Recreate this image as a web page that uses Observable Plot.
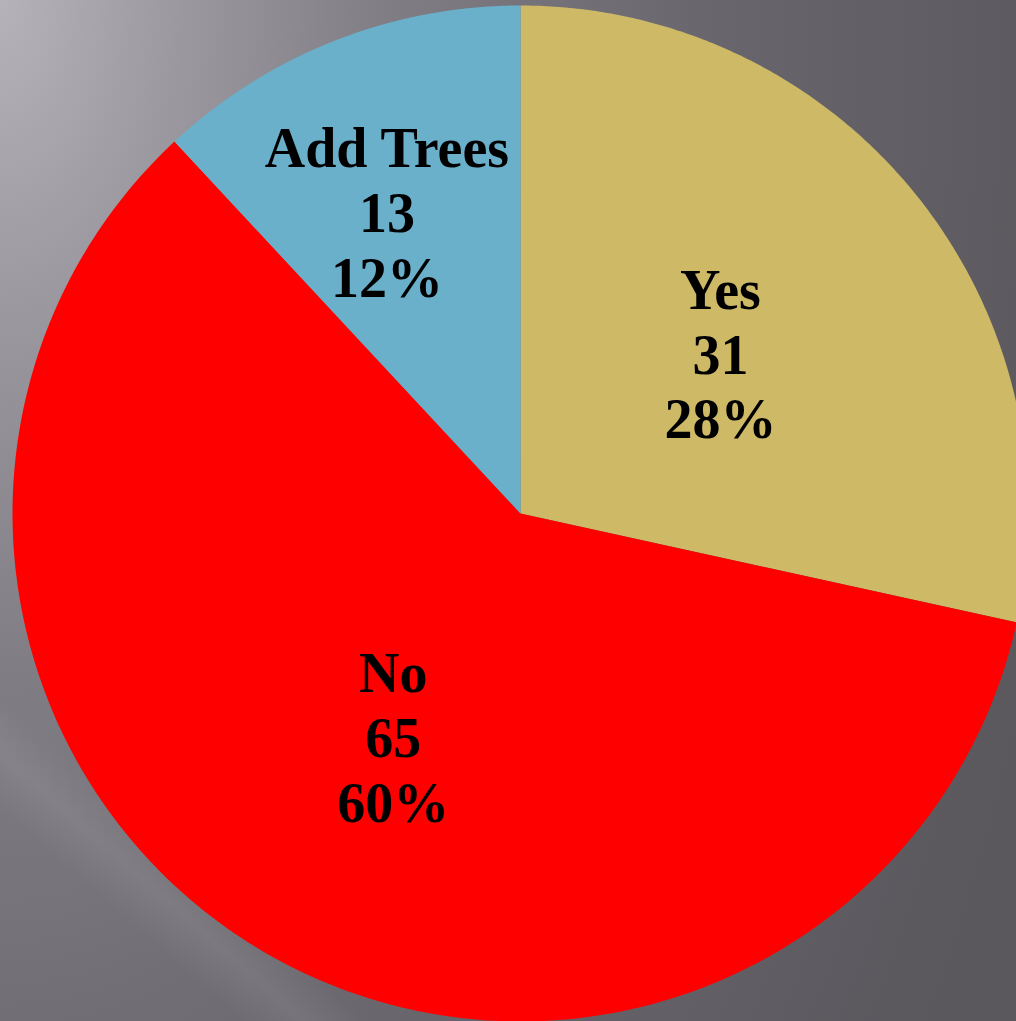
<!DOCTYPE html>
<html>
<head>
<meta charset="utf-8">
<script src="https://cdn.jsdelivr.net/npm/d3@7"></script>
<script src="https://cdn.jsdelivr.net/npm/@observablehq/plot@0.6"></script>
<style>
  html, body { margin: 0; padding: 0; overflow: hidden; }
  body {
    width: 1016px; height: 1021px;
    background:
      linear-gradient(41.5deg, rgba(255,255,255,0) 11%, rgba(255,255,255,0.07) 14%, rgba(255,255,255,0) 17%),
      radial-gradient(ellipse 1100px 1900px at 0 0, #b5b3b9 0%, #9a989e 17%, #807e84 35%, #68666c 65%, #5a585d 100%);
  }
  #chart svg { display: block; background: transparent; overflow: hidden; }
</style>
</head>
<body>
<div id="chart"></div>
<script>
// Data
const categories = ["Yes", "No", "Add Trees"];
const counts = [31, 65, 13];
const percentLabels = ["28%", "60%", "12%"];
const colors = ["#CEB967", "#FF0000", "#6AB0CA"];

// Layout (not data): radial label position and small angular nudge (degrees)
const labelRadius = {"Yes": 0.505, "No": 0.505, "Add Trees": 0.65};
const labelNudge = {"Yes": 0, "No": 0, "Add Trees": -2.4};

const table = categories.map((name, i) => ({name, value: counts[i], pct: percentLabels[i]}));
const arcs = d3.pie().sort(null).value(d => d.value)(table);

// Slice polygons in unit-circle coordinates (angle 0 = top, clockwise)
const pts = [];
for (const a of arcs) {
  pts.push({name: a.data.name, x: 0, y: 0});
  const n = 240;
  for (let k = 0; k <= n; k++) {
    const t = a.startAngle + (a.endAngle - a.startAngle) * k / n;
    pts.push({name: a.data.name, x: Math.sin(t), y: Math.cos(t)});
  }
}
const labels = arcs.map(a => {
  const m = (a.startAngle + a.endAngle) / 2 + labelNudge[a.data.name] * Math.PI / 180;
  const r = labelRadius[a.data.name];
  return {name: a.data.name, x: r * Math.sin(m), y: r * Math.cos(m),
          text: `${a.data.name}\n${a.data.value}\n${a.data.pct}`};
});

const cx = 520, cy = 513, R = 508;
const chart = Plot.plot({
  width: 1016,
  height: 1021,
  margin: 0,
  style: {background: "transparent", overflow: "hidden"},
  x: {domain: [-1, 1], range: [cx - R, cx + R], axis: null},
  y: {domain: [-1, 1], range: [cy + R, cy - R], axis: null},
  color: {domain: categories, range: colors},
  marks: [
    Plot.line(pts, {x: "x", y: "y", z: "name", fill: "name", stroke: null, curve: "linear-closed"}),
    Plot.text(labels, {
      x: "x", y: "y", text: "text",
      fontFamily: "'Liberation Serif', 'Times New Roman', serif",
      fontWeight: "bold", fontSize: 56, lineHeight: 1.16, fill: "#000"
    })
  ]
});
document.getElementById("chart").appendChild(chart);
</script>
</body>
</html>
